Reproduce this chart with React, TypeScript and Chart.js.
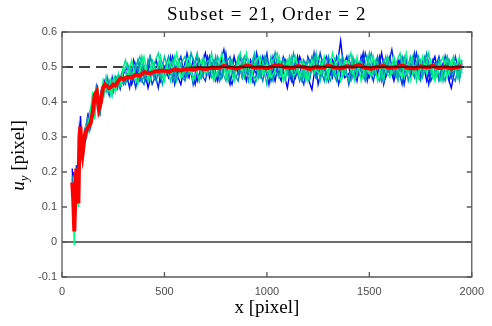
import React, { useEffect, useRef } from 'react';
import { Chart, registerables } from 'chart.js';

Chart.register(...registerables);

// ---------- data ----------
const titleText = 'Subset = 21, Order = 2';
const xTitle = 'x [pixel]';

const xTicks = [0, 500, 1000, 1500, 2000];
const yTicks = [-0.1, 0, 0.1, 0.2, 0.3, 0.4, 0.5, 0.6];

const noiseXs = [
  50, 60, 70, 80, 90, 100, 110, 120, 130, 140,
  150, 160, 170, 180, 190, 200, 210, 220, 230, 240,
  250, 260, 270, 280, 290, 300,
  320, 340, 360, 380, 400, 420, 440, 460, 480, 500,
  520, 540, 560, 580, 600, 620, 640, 660, 680, 700,
  720, 740, 760, 780, 800, 820, 840, 860, 880, 900,
  920, 940, 960, 980, 1000, 1020, 1040, 1060, 1080, 1100,
  1120, 1140, 1160, 1180, 1200, 1220, 1240, 1260, 1280, 1300,
  1320, 1340, 1360, 1380, 1400, 1420, 1440, 1460, 1480, 1500,
  1520, 1540, 1560, 1580, 1600, 1620, 1640, 1660, 1680, 1700,
  1720, 1740, 1760, 1780, 1800, 1820, 1840, 1860, 1880, 1900,
  1920, 1940, 1952,
];

const noiseXs2 = [
  55, 65, 75, 85, 95, 105, 115, 125, 135, 145,
  155, 165, 175, 185, 195, 205, 215, 225, 235, 245,
  255, 265, 275, 285, 295,
  310, 330, 350, 370, 390, 410, 430, 450, 470, 490,
  510, 530, 550, 570, 590, 610, 630, 650, 670, 690,
  710, 730, 750, 770, 790, 810, 830, 850, 870, 890,
  910, 930, 950, 970, 990, 1010, 1030, 1050, 1070, 1090,
  1110, 1130, 1150, 1170, 1190, 1210, 1230, 1250, 1270, 1290,
  1310, 1330, 1350, 1370, 1390, 1410, 1430, 1450, 1470, 1490,
  1510, 1530, 1550, 1570, 1590, 1610, 1630, 1650, 1670, 1690,
  1710, 1730, 1750, 1770, 1790, 1810, 1830, 1850, 1870, 1890,
  1910, 1930, 1945,
];

const seriesA = [
  0.21, 0.06, 0.19, 0.15, 0.36, 0.25, 0.29, 0.31, 0.36, 0.33,
  0.40, 0.38, 0.45, 0.37, 0.42, 0.43, 0.46, 0.44, 0.42, 0.45,
  0.43, 0.46, 0.44, 0.47, 0.45, 0.48,
  0.50, 0.45, 0.49, 0.46, 0.50, 0.44, 0.49, 0.52, 0.46, 0.50,
  0.47, 0.53, 0.48, 0.45, 0.51, 0.47, 0.52, 0.46, 0.50, 0.54,
  0.47, 0.51, 0.46, 0.52, 0.49, 0.45, 0.53, 0.48, 0.51, 0.46,
  0.52, 0.49, 0.47, 0.53, 0.48, 0.50, 0.46, 0.52, 0.49, 0.44,
  0.51, 0.47, 0.53, 0.50, 0.47, 0.435, 0.52, 0.48, 0.51, 0.46,
  0.52, 0.49, 0.575, 0.47, 0.48, 0.51, 0.46, 0.53, 0.49, 0.47,
  0.52, 0.48, 0.54, 0.47, 0.50, 0.46, 0.52, 0.49, 0.53, 0.47,
  0.51, 0.48, 0.52, 0.46, 0.50, 0.53, 0.47, 0.51, 0.48, 0.44,
  0.50, 0.47, 0.51,
];

const seriesB = [
  0.18, 0.04, 0.22, 0.11, 0.33, 0.27, 0.32, 0.30, 0.35, 0.36,
  0.42, 0.36, 0.44, 0.40, 0.39, 0.45, 0.44, 0.47, 0.43, 0.44,
  0.46, 0.44, 0.47, 0.45, 0.48, 0.46,
  0.46, 0.49, 0.44, 0.51, 0.47, 0.50, 0.45, 0.48, 0.53, 0.47,
  0.51, 0.46, 0.50, 0.53, 0.47, 0.52, 0.45, 0.51, 0.48, 0.46,
  0.53, 0.48, 0.51, 0.47, 0.54, 0.46, 0.50, 0.52, 0.47, 0.53,
  0.48, 0.45, 0.52, 0.49, 0.54, 0.46, 0.51, 0.48, 0.53, 0.50,
  0.46, 0.52, 0.48, 0.45, 0.53, 0.50, 0.47, 0.54, 0.49, 0.52,
  0.47, 0.53, 0.48, 0.51, 0.45, 0.52, 0.49, 0.47, 0.54, 0.50,
  0.46, 0.52, 0.48, 0.51, 0.53, 0.47, 0.50, 0.45, 0.52, 0.48,
  0.54, 0.47, 0.50, 0.52, 0.46, 0.49, 0.53, 0.48, 0.51, 0.47,
  0.53, 0.48, 0.50,
];

const seriesC = [
  0.19, 0.07, 0.18, 0.14, 0.30, 0.24, 0.31, 0.34, 0.32, 0.37,
  0.39, 0.40, 0.42, 0.38, 0.43, 0.42, 0.45, 0.44, 0.46, 0.43,
  0.45, 0.47, 0.44, 0.46, 0.47, 0.45,
  0.48, 0.46, 0.51, 0.47, 0.45, 0.52, 0.48, 0.46, 0.51, 0.49,
  0.53, 0.47, 0.50, 0.48, 0.46, 0.51, 0.49, 0.53, 0.47, 0.50,
  0.48, 0.52, 0.50, 0.47, 0.51, 0.53, 0.48, 0.46, 0.52, 0.49,
  0.47, 0.53, 0.50, 0.46, 0.52, 0.48, 0.54, 0.47, 0.50, 0.52,
  0.48, 0.50, 0.46, 0.52, 0.49, 0.53, 0.47, 0.50, 0.46, 0.53,
  0.49, 0.46, 0.51, 0.48, 0.53, 0.47, 0.52, 0.50, 0.46, 0.51,
  0.49, 0.53, 0.46, 0.51, 0.48, 0.52, 0.47, 0.53, 0.49, 0.51,
  0.47, 0.52, 0.49, 0.54, 0.48, 0.51, 0.46, 0.50, 0.53, 0.48,
  0.46, 0.52, 0.49,
];

const seriesD = [
  0.15, 0.03, 0.21, 0.12, 0.32, 0.26, 0.28, 0.33, 0.35, 0.34,
  0.41, 0.37, 0.43, 0.39, 0.40, 0.44, 0.45, 0.43, 0.44, 0.46,
  0.44, 0.45, 0.46, 0.44, 0.47, 0.49,
  0.51, 0.47, 0.50, 0.53, 0.48, 0.46, 0.52, 0.49, 0.47, 0.53,
  0.49, 0.52, 0.46, 0.51, 0.53, 0.48, 0.50, 0.54, 0.47, 0.51,
  0.52, 0.47, 0.53, 0.49, 0.46, 0.52, 0.48, 0.53, 0.47, 0.51,
  0.50, 0.54, 0.47, 0.51, 0.45, 0.53, 0.49, 0.47, 0.52, 0.48,
  0.53, 0.48, 0.51, 0.47, 0.52, 0.49, 0.54, 0.46, 0.51, 0.48,
  0.51, 0.47, 0.52, 0.49, 0.46, 0.53, 0.48, 0.52, 0.47, 0.54,
  0.48, 0.51, 0.47, 0.53, 0.49, 0.52, 0.46, 0.51, 0.48, 0.53,
  0.49, 0.53, 0.47, 0.52, 0.49, 0.47, 0.52, 0.46, 0.53, 0.49,
  0.51, 0.46, 0.52,
];

const seriesE = [
  0.16, -0.01, 0.20, 0.10, 0.31, 0.28, 0.30, 0.32, 0.33, 0.38,
  0.43, 0.35, 0.44, 0.38, 0.41, 0.46, 0.43, 0.45, 0.44, 0.42,
  0.46, 0.43, 0.47, 0.46, 0.45, 0.50,
  0.47, 0.52, 0.46, 0.49, 0.53, 0.47, 0.51, 0.48, 0.53, 0.46,
  0.52, 0.49, 0.54, 0.47, 0.50, 0.53, 0.46, 0.49, 0.52, 0.48,
  0.51, 0.46, 0.49, 0.54, 0.47, 0.50, 0.46, 0.52, 0.49, 0.54,
  0.46, 0.51, 0.53, 0.48, 0.51, 0.47, 0.49, 0.53, 0.46, 0.52,
  0.49, 0.53, 0.47, 0.51, 0.46, 0.52, 0.49, 0.48, 0.53, 0.47,
  0.54, 0.50, 0.46, 0.52, 0.51, 0.48, 0.53, 0.46, 0.50, 0.48,
  0.53, 0.46, 0.51, 0.49, 0.47, 0.53, 0.49, 0.47, 0.54, 0.46,
  0.50, 0.47, 0.53, 0.48, 0.52, 0.46, 0.50, 0.53, 0.47, 0.52,
  0.49, 0.53, 0.48,
];

const seriesF = [
  0.14, 0.08, 0.19, 0.27, 0.31, 0.25, 0.33, 0.31, 0.37, 0.34,
  0.41, 0.44, 0.39, 0.40, 0.44, 0.42, 0.47, 0.43, 0.46, 0.42,
  0.47, 0.44, 0.48, 0.45, 0.49,
  0.52, 0.47, 0.49, 0.45, 0.53, 0.48, 0.46, 0.51, 0.54, 0.47,
  0.50, 0.46, 0.53, 0.49, 0.47, 0.52, 0.48, 0.51, 0.46, 0.53,
  0.48, 0.54, 0.47, 0.50, 0.52, 0.46, 0.51, 0.49, 0.54, 0.47,
  0.52, 0.48, 0.46, 0.53, 0.50, 0.47, 0.52, 0.54, 0.48, 0.46,
  0.53, 0.47, 0.50, 0.52, 0.46, 0.51, 0.48, 0.53, 0.50, 0.46,
  0.52, 0.48, 0.53, 0.47, 0.50, 0.54, 0.46, 0.51, 0.49, 0.53,
  0.47, 0.52, 0.50, 0.46, 0.53, 0.48, 0.51, 0.54, 0.47, 0.50,
  0.53, 0.46, 0.52, 0.49, 0.54, 0.47, 0.50, 0.46, 0.52, 0.48,
  0.53, 0.47, 0.50,
];

const seriesG = [
  0.16, 0.10, 0.13, 0.31, 0.26, 0.29, 0.29, 0.35, 0.32, 0.38,
  0.37, 0.41, 0.43, 0.36, 0.41, 0.45, 0.43, 0.46, 0.42, 0.46,
  0.44, 0.47, 0.45, 0.47, 0.46,
  0.45, 0.50, 0.47, 0.52, 0.46, 0.49, 0.53, 0.47, 0.50, 0.45,
  0.51, 0.48, 0.46, 0.52, 0.49, 0.47, 0.54, 0.50, 0.46, 0.52,
  0.49, 0.47, 0.53, 0.46, 0.50, 0.48, 0.52, 0.47, 0.50, 0.53,
  0.46, 0.51, 0.49, 0.47, 0.53, 0.50, 0.46, 0.52, 0.48, 0.51,
  0.47, 0.54, 0.49, 0.46, 0.51, 0.47, 0.53, 0.49, 0.52, 0.48,
  0.46, 0.51, 0.49, 0.53, 0.48, 0.46, 0.52, 0.50, 0.47, 0.51,
  0.54, 0.48, 0.46, 0.52, 0.49, 0.51, 0.47, 0.50, 0.53, 0.46,
  0.51, 0.48, 0.46, 0.53, 0.50, 0.47, 0.51, 0.49, 0.46, 0.52,
  0.48, 0.51, 0.47,
];

const seriesH = [
  0.20, 0.17, 0.15, 0.33, 0.30, 0.27, 0.32, 0.36, 0.33, 0.39,
  0.38, 0.43, 0.40, 0.37, 0.43, 0.46, 0.44, 0.45, 0.43, 0.47,
  0.44, 0.46, 0.47, 0.44, 0.48,
  0.49, 0.44, 0.52, 0.48, 0.51, 0.46, 0.53, 0.49, 0.44, 0.51,
  0.48, 0.53, 0.45, 0.50, 0.47, 0.54, 0.49, 0.45, 0.52, 0.48,
  0.53, 0.49, 0.46, 0.51, 0.55, 0.48, 0.45, 0.50, 0.53, 0.47,
  0.50, 0.46, 0.54, 0.48, 0.51, 0.45, 0.53, 0.49, 0.46, 0.52,
  0.49, 0.45, 0.53, 0.48, 0.51, 0.47, 0.54, 0.45, 0.50, 0.53,
  0.48, 0.52, 0.45, 0.50, 0.53, 0.47, 0.51, 0.48, 0.54, 0.46,
  0.51, 0.48, 0.53, 0.45, 0.50, 0.55, 0.48, 0.52, 0.45, 0.51,
  0.49, 0.54, 0.47, 0.51, 0.45, 0.52, 0.49, 0.47, 0.53, 0.46,
  0.51, 0.48, 0.50,
];

const meanXs = [
  50, 55, 60, 65, 70, 75, 80, 85, 90, 95, 100,
  110, 120, 130, 140, 150, 160, 170, 180, 190, 200,
  210, 220, 230, 240, 250, 260, 270, 280, 290, 300,
  320, 340, 360, 380, 400,
  430, 460, 490, 520, 550, 580, 610, 640, 670, 700, 730,
  760, 790, 820, 850, 880, 910, 940, 970, 1000, 1030,
  1060, 1090, 1120, 1150, 1180, 1210, 1240, 1270, 1300, 1330,
  1360, 1390, 1420, 1450, 1480, 1510, 1540, 1570, 1600, 1630,
  1660, 1690, 1720, 1750, 1780, 1810, 1840, 1870, 1900, 1930,
  1950,
];

const meanYs = [
  0.17, 0.12, 0.03, 0.13, 0.21, 0.16, 0.11, 0.30, 0.33, 0.27, 0.25,
  0.30, 0.32, 0.33, 0.34, 0.37, 0.42, 0.43, 0.38, 0.40, 0.44,
  0.45, 0.445, 0.44, 0.443, 0.45, 0.447, 0.455, 0.465, 0.468, 0.465,
  0.472, 0.47, 0.478, 0.475, 0.485,
  0.482, 0.488, 0.49, 0.487, 0.493, 0.49, 0.495, 0.492, 0.497, 0.494, 0.498,
  0.497, 0.503, 0.499, 0.495, 0.501, 0.504, 0.498, 0.500, 0.496, 0.502,
  0.505, 0.499, 0.497, 0.503, 0.500, 0.494, 0.501, 0.498, 0.504, 0.499,
  0.496, 0.502, 0.500, 0.506, 0.498, 0.495, 0.501, 0.503, 0.497, 0.500,
  0.504, 0.498, 0.496, 0.502, 0.499, 0.503, 0.497, 0.501, 0.495, 0.500,
  0.502,
];

const refLevel = 0.5;
const refSolidStart = 620;
const xMin = 0;
const xMax = 2000;
const yMin = -0.1;
const yMax = 0.6;

// drawn top-first (Chart.js paints dataset 0 last)
const noiseSeries = [
  { xs: noiseXs, ys: seriesE, color: 'rgb(0,255,128)' },
  { xs: noiseXs2, ys: seriesF, color: 'rgb(0,223,144)' },
  { xs: noiseXs, ys: seriesD, color: 'rgb(0,191,160)' },
  { xs: noiseXs2, ys: seriesG, color: 'rgb(0,160,175)' },
  { xs: noiseXs, ys: seriesC, color: 'rgb(0,128,191)' },
  { xs: noiseXs, ys: seriesB, color: 'rgb(0,64,223)' },
  { xs: noiseXs2, ys: seriesH, color: 'rgb(0,32,239)' },
  { xs: noiseXs, ys: seriesA, color: 'rgb(0,0,255)' },
];

const toPts = (xs: number[], ys: number[]) =>
  ys.slice(0, xs.length).map((y, i) => ({ x: xs[i], y }));

const decorPlugin = {
  id: 'matlabDecor',
  afterDatasetsDraw(chart: any) {
    const { ctx, chartArea } = chart;
    const xs = chart.scales.x;
    const ys = chart.scales.y;
    const { left, right, top, bottom } = chartArea;
    ctx.save();
    ctx.strokeStyle = '#5a5a5a';
    ctx.lineWidth = 1.3;
    ctx.beginPath();
    ctx.rect(left, top, right - left, bottom - top);
    ctx.stroke();
    const tl = 5;
    ctx.beginPath();
    xTicks.forEach((v) => {
      const px = xs.getPixelForValue(v);
      ctx.moveTo(px, bottom);
      ctx.lineTo(px, bottom - tl);
      ctx.moveTo(px, top);
      ctx.lineTo(px, top + tl);
    });
    yTicks.forEach((v) => {
      const py = ys.getPixelForValue(v);
      ctx.moveTo(left, py);
      ctx.lineTo(left + tl, py);
      ctx.moveTo(right, py);
      ctx.lineTo(right - tl, py);
    });
    ctx.stroke();
    ctx.restore();
  },
  afterDraw(chart: any) {
    const { ctx, chartArea } = chart;
    const cx = (chartArea.left + chartArea.right) / 2;
    const cy = (chartArea.top + chartArea.bottom) / 2;
    ctx.save();
    ctx.fillStyle = '#000';
    ctx.textBaseline = 'alphabetic';
    ctx.textAlign = 'center';
    ctx.font = '19px "Liberation Serif", serif';
    (ctx as any).letterSpacing = '1.2px';
    ctx.fillText(titleText, cx, 19.5);
    (ctx as any).letterSpacing = '0px';
    ctx.fillText(xTitle, cx, 313);

    // y title: u_y [pixel]
    ctx.translate(24, cy + 1);
    ctx.rotate(-Math.PI / 2);
    ctx.textAlign = 'left';
    const fMain = 'italic 19px "Liberation Serif", serif';
    const fSub = 'italic 13px "Liberation Serif", serif';
    const fRest = '19px "Liberation Serif", serif';
    ctx.font = fMain;
    const wu = ctx.measureText('u').width;
    ctx.font = fSub;
    const wy = ctx.measureText('y').width;
    ctx.font = fRest;
    const wr = ctx.measureText(' [pixel]').width;
    let x0 = -(wu + wy + wr) / 2;
    ctx.font = fMain;
    ctx.fillText('u', x0, 0);
    x0 += wu;
    ctx.font = fSub;
    ctx.fillText('y', x0, 4);
    x0 += wy;
    ctx.font = fRest;
    ctx.fillText(' [pixel]', x0, 0);
    ctx.restore();
  },
};

export default function App() {
  const ref = useRef<HTMLCanvasElement>(null);

  useEffect(() => {
    document.body.style.margin = '0';
    const canvas = ref.current;
    if (!canvas) return;

    const datasets: any[] = [
      {
        data: [
          { x: refSolidStart, y: refLevel },
          { x: xMax, y: refLevel },
        ],
        borderColor: '#000',
        borderWidth: 1,
      },
      {
        data: toPts(meanXs, meanYs),
        borderColor: 'rgb(255,0,0)',
        borderWidth: 4,
      },
      ...noiseSeries.map((s) => ({
        data: toPts(s.xs, s.ys),
        borderColor: s.color,
        borderWidth: 1.4,
      })),
      {
        data: [
          { x: xMin, y: 0 },
          { x: xMax, y: 0 },
        ],
        borderColor: '#3a3a3a',
        borderWidth: 1.3,
      },
      {
        data: [
          { x: xMin, y: refLevel },
          { x: xMax, y: refLevel },
        ],
        borderColor: '#000',
        borderWidth: 1.3,
        borderDash: [11, 6],
      },
    ].map((d) => ({
      pointRadius: 0,
      pointHoverRadius: 0,
      tension: 0,
      fill: false,
      ...d,
    }));

    const tickFont = { family: '"Liberation Sans", Arial, sans-serif', size: 11 };

    const chart = new Chart(canvas, {
      type: 'line',
      data: { datasets },
      options: {
        animation: false,
        responsive: false,
        events: [],
        layout: { padding: { left: 0, right: 15, top: 32, bottom: 0 } },
        plugins: {
          legend: { display: false },
          tooltip: { enabled: false },
          title: { display: false },
        },
        scales: {
          x: {
            type: 'linear',
            min: xMin,
            max: xMax,
            grid: { display: false, drawTicks: false },
            border: { display: false },
            afterBuildTicks: (s: any) => {
              s.ticks = xTicks.map((v) => ({ value: v }));
            },
            afterFit: (s: any) => {
              s.height = 49;
            },
            ticks: {
              color: '#4d4d4d',
              font: tickFont,
              padding: 8,
              maxRotation: 0,
              callback: (v: any) => String(v),
            },
          },
          y: {
            type: 'linear',
            min: yMin,
            max: yMax,
            grid: { display: false, drawTicks: false },
            border: { display: false },
            afterBuildTicks: (s: any) => {
              s.ticks = yTicks.map((v) => ({ value: v }));
            },
            afterFit: (s: any) => {
              s.width = 62;
            },
            ticks: {
              color: '#4d4d4d',
              font: tickFont,
              padding: 5,
              callback: (v: any) => String(Math.round(Number(v) * 10) / 10),
            },
          },
        },
      },
      plugins: [decorPlugin],
    });

    return () => chart.destroy();
  }, []);

  return (
    <div style={{ width: 492, height: 326 }}>
      <canvas ref={ref} width={492} height={326} style={{ width: 492, height: 326 }} />
    </div>
  );
}
